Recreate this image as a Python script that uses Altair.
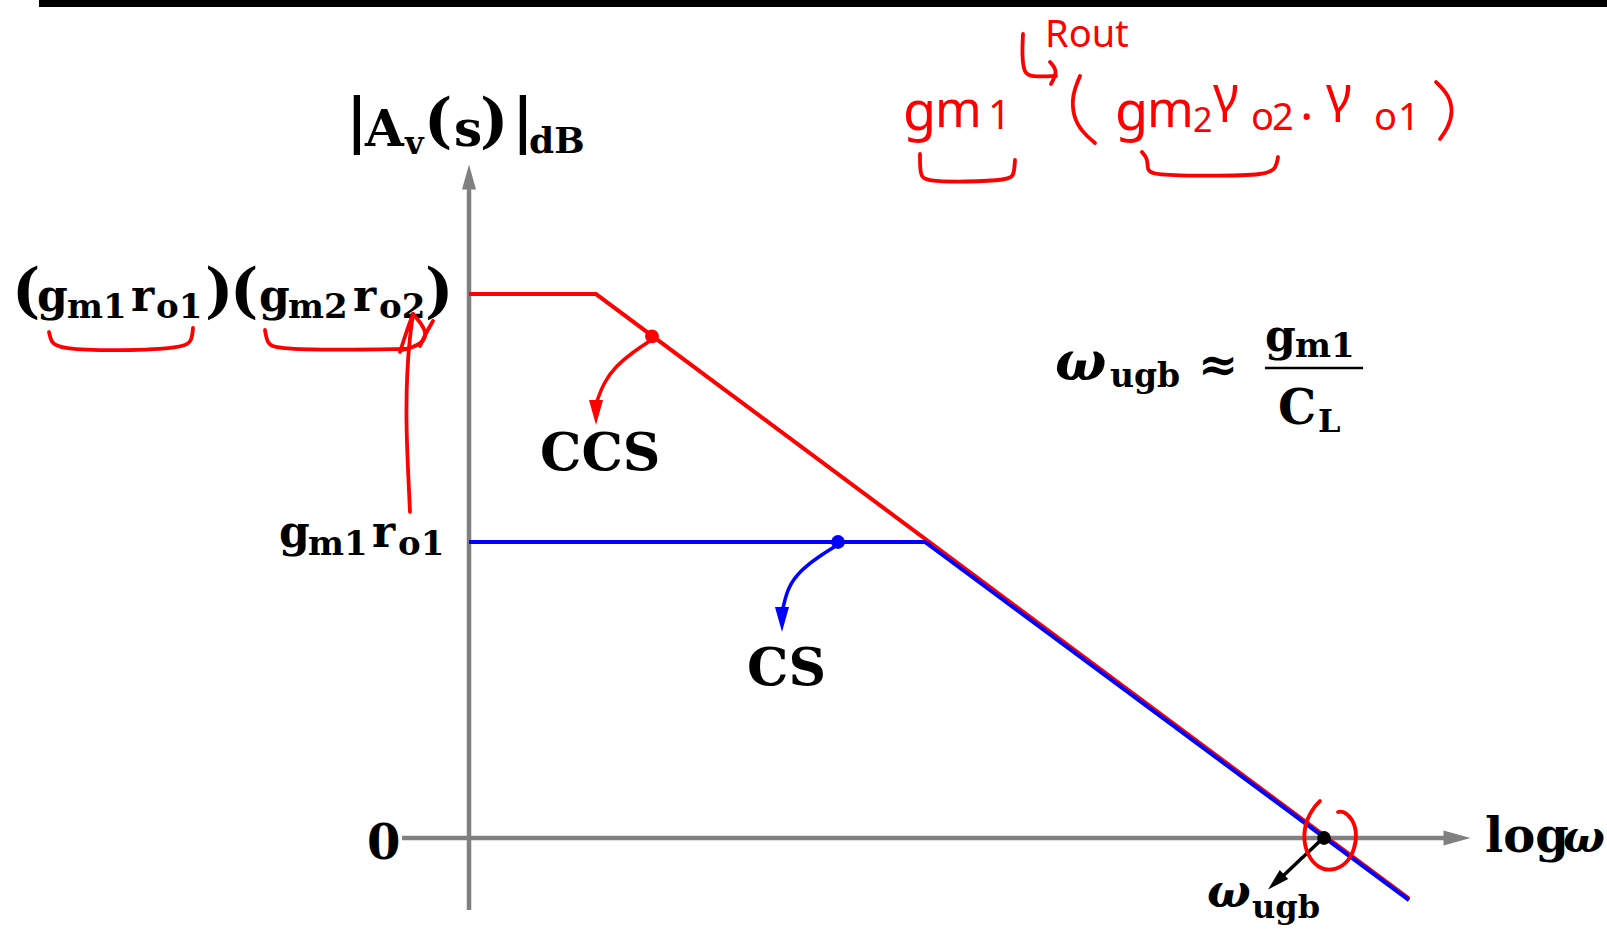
import altair as alt
import pandas as pd

W, H = 1607, 936

# ---- Bode magnitude asymptotes (x: log10 of omega in decades from the axis, y: gain in dB)
log_w_ccs = [0.0, 0.635, 4.70]
gain_ccs_db = [73.5, 73.5, -8.2]
log_w_cs = [0.0, 2.28, 4.70]
gain_cs_db = [40.0, 40.0, -8.4]

marker_names = ["CCS", "CS", "ugb"]
marker_log_w = [0.915, 1.845, 4.275]
marker_db = [67.8, 40.0, 0.0]
marker_colors = ["#ff0000", "#0000ff", "#000000"]

X_DOMAIN = [-2.345, 5.69]
Y_DOMAIN = [-13.243, 113.243]

RED = "#ff0000"
BLUE = "#0000ff"
GRAY = "#808080"
SERIF = "DejaVu Serif"
HAND = "Noto Sans"

xs = alt.Scale(domain=X_DOMAIN, nice=False, zero=False)
ys = alt.Scale(domain=Y_DOMAIN, nice=False, zero=False)

curves = pd.concat([
    pd.DataFrame({"stage": "CCS", "i": range(3), "logw": log_w_ccs, "db": gain_ccs_db}),
    pd.DataFrame({"stage": "CS", "i": range(3), "logw": log_w_cs, "db": gain_cs_db}),
])
markers = pd.DataFrame({"name": marker_names, "logw": marker_log_w,
                        "db": marker_db, "c": marker_colors})

# ---- annotation geometry in page pixels
curved_arrows = {
    "ccs": [(650, 341), (633, 352), (616, 366), (604, 382), (597, 401)],
    "cs": [(836, 546), (818, 557), (800, 571), (788, 587), (783, 608)],
    "ugb": [(1322, 839), (1302, 858), (1283, 876)],
}
arrow_colors = {"ccs": RED, "cs": BLUE, "ugb": "#000000"}

# arrowheads: tip-centred triangles (x, y, size, angle, colour)
HEAD = "M -0.56 -1 L 0.56 -1 L 0 1 Z"
heads = pd.DataFrame({
    "x": [469, 1457, 596, 782, 1276],
    "y": [177, 838, 412.5, 619.5, 882],
    "s": [625, 729, 625, 625, 484],
    "a": [180, 270, 0, 0, 46.6],
    "c": [GRAY, GRAY, RED, BLUE, "#000000"],
})

hand_strokes = {
    "rout_arrow": [(1023, 34), (1022, 55), (1024, 73), (1031, 77), (1056, 76)],
    "rout_head": [(1050, 62), (1058, 71), (1051, 84)],
    "paren_l": [(1080, 76), (1072, 95), (1073, 116), (1082, 132), (1095, 143)],
    "paren_r": [(1436, 82), (1449, 95), (1453, 112), (1448, 128), (1440, 139)],
    "brace_gm1": [(920, 154), (920, 176), (926, 181), (965, 182), (1009, 180), (1014, 175), (1015, 160)],
    "brace_gm2ro2": [(1142, 152), (1148, 159), (1147, 170), (1153, 175), (1210, 176), (1268, 175), (1276, 168), (1278, 157)],
    "brace_left1": [(49, 332), (51, 342), (59, 349), (120, 351), (185, 348), (192, 340), (193, 328)],
    "brace_left2": [(265, 330), (267, 343), (275, 349), (340, 350), (405, 349)],
    "pointer": [(410, 512), (408, 470), (406, 420), (407, 370), (410, 335), (413, 314)],
    "pointer_l": [(400, 352), (406, 333), (413, 314)],
    "pointer_r": [(413, 314), (421, 323), (428, 336), (418, 346), (402, 350)],
    "pointer_x": [(433, 321), (426, 333), (420, 346)],
    "ring": [(1320, 801), (1315, 806), (1307, 818), (1303, 836), (1307, 855), (1318, 868),
             (1331, 871), (1346, 865), (1355, 849), (1357, 832), (1352, 818), (1343, 811), (1338, 812)],
}


def strokes_df(d):
    rows = []
    for sid, pts in d.items():
        for i, (x, y) in enumerate(pts):
            rows.append({"sid": sid, "i": i, "x": x, "y": y})
    return pd.DataFrame(rows)


# ---- text pieces: (text, left x, baseline y, font size)
bold_text = [
    # |A_v(s)|_dB
    ("|", 346, 141, 60), ("A", 365, 146, 50), ("v", 405, 154, 32), ("(", 424, 141, 60),
    ("s", 454, 146, 50), (")", 480, 141, 60), ("|", 512, 141, 60), ("dB", 529, 153, 36),
    # (g_m1 r_o1)(g_m2 r_o2)
    ("(", 12, 311, 60), ("g", 37, 311, 44), ("m1", 67, 318, 34), ("r", 131, 311, 44),
    ("o1", 156, 318, 34), (")", 205, 311, 60), ("(", 230, 311, 60), ("g", 259, 311, 44),
    ("m2", 288, 318, 34), ("r", 353, 311, 44), ("o2", 379, 318, 34), (")", 425, 311, 60),
    # g_m1 r_o1
    ("g", 279, 547, 44), ("m1", 308, 555, 34), ("r", 372, 547, 44), ("o1", 398, 555, 34),
    # axis labels and stage names
    ("0", 367, 859, 48), ("CCS", 540, 470, 52), ("CS", 747, 685, 52), ("log", 1485, 852, 48),
    # subscripts of omega
    ("ugb", 1252, 918, 32), ("ugb", 1110, 387, 33),
    # approx and fraction g_m1 / C_L
    ("≈", 1198, 381, 48), ("g", 1265, 351, 44), ("m1", 1295, 357, 34),
    ("C", 1278, 424, 48), ("L", 1318, 432, 32),
]
italic_text = [("ω", 1563, 852, 44), ("ω", 1207, 907, 46), ("ω", 1055, 380, 54)]
hand_text = [
    ("Rout", 1045, 47, 38),
    ("g", 903, 130, 54), ("m", 935, 127, 50), ("1", 988, 129, 40),
    ("g", 1115, 130, 54), ("m", 1147, 127, 50), ("2", 1193, 132, 34),
    ("γ", 1213, 112, 50), ("o", 1251, 130, 38), ("2", 1272, 130, 38),
    ("·", 1300, 134, 50),
    ("γ", 1326, 112, 50), ("o", 1374, 130, 38), ("1", 1398, 130, 38),
]


def text_df(items):
    return pd.DataFrame(items, columns=["t", "x", "y", "s"])


def px_enc():
    return dict(x=alt.X("x:Q", scale=None), y=alt.Y("y:Q", scale=None))


def text_layer(items, color, weight, style, font):
    return alt.Chart(text_df(items)).mark_text(
        font=font, fontWeight=weight, fontStyle=style, color=color,
        align="left", baseline="alphabetic",
    ).encode(size=alt.Size("s:Q", scale=None), text="t:N", **px_enc())


one = pd.DataFrame({"k": [0]})

top_bar = alt.Chart(one).mark_rect(color="#000000").encode(
    x=alt.value(39), x2=alt.value(W), y=alt.value(0), y2=alt.value(7))
y_axis = alt.Chart(one).mark_rule(color=GRAY, strokeWidth=4.5).encode(
    x=alt.value(469), y=alt.value(185), y2=alt.value(910))
x_axis = alt.Chart(one).mark_rule(color=GRAY, strokeWidth=4.5).encode(
    y=alt.value(838), x=alt.value(402), x2=alt.value(1448))
frac_bar = alt.Chart(one).mark_rule(color="#000000", strokeWidth=2.5).encode(
    y=alt.value(368), x=alt.value(1265), x2=alt.value(1363))

asymptotes = alt.Chart(curves).mark_line(strokeWidth=4, strokeJoin="miter").encode(
    x=alt.X("logw:Q", scale=xs, axis=None),
    y=alt.Y("db:Q", scale=ys, axis=None),
    color=alt.Color("stage:N", scale=alt.Scale(domain=["CCS", "CS"], range=[RED, BLUE]), legend=None),
    order="i:Q",
)

dots = alt.Chart(markers).mark_circle(size=190, opacity=1).encode(
    x=alt.X("logw:Q", scale=xs, axis=None),
    y=alt.Y("db:Q", scale=ys, axis=None),
    color=alt.Color("c:N", scale=None),
)

arrow_df = strokes_df(curved_arrows)
arrow_df["c"] = arrow_df["sid"].map(arrow_colors)
arrow_lines = alt.Chart(arrow_df).mark_line(strokeWidth=3.5, interpolate="basis").encode(
    detail="sid:N", order="i:Q", color=alt.Color("c:N", scale=None), **px_enc())

arrow_heads = alt.Chart(heads).mark_point(shape=HEAD, filled=True, opacity=1, strokeWidth=0).encode(
    size=alt.Size("s:Q", scale=None), angle=alt.Angle("a:Q", scale=None),
    color=alt.Color("c:N", scale=None), **px_enc())

hand_lines = alt.Chart(strokes_df(hand_strokes)).mark_line(
    color=RED, strokeWidth=3.8, interpolate="basis", strokeCap="round", strokeJoin="round",
).encode(detail="sid:N", order="i:Q", **px_enc())

chart = alt.layer(
    top_bar, y_axis, x_axis,
    asymptotes, dots, arrow_lines, arrow_heads,
    text_layer(bold_text, "#000000", "bold", "normal", SERIF),
    text_layer(italic_text, "#000000", "bold", "italic", SERIF),
    frac_bar,
    text_layer(hand_text, RED, "normal", "normal", HAND),
    hand_lines,
).properties(
    width=W, height=H, padding=0,
    autosize=alt.AutoSizeParams(type="none"),
).configure_view(strokeWidth=0)

chart.save("out.html", embed_options={"renderer": "svg", "actions": False})
